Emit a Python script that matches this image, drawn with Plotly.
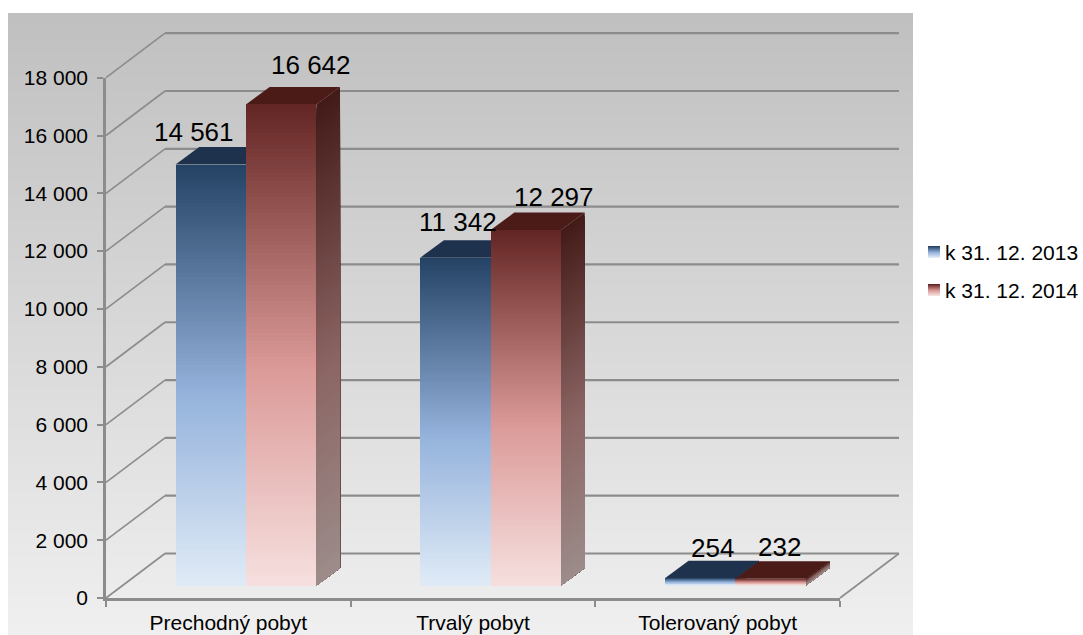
import plotly.graph_objects as go

categories = ["Prechodný pobyt", "Trvalý pobyt", "Tolerovaný pobyt"]
series_names = ["k 31. 12. 2013", "k 31. 12. 2014"]
values_2013 = [14561, 11342, 254]
values_2014 = [16642, 12297, 232]
value_labels_2013 = ["14 561", "11 342", "254"]
value_labels_2014 = ["16 642", "12 297", "232"]
y_ticks = [0, 2000, 4000, 6000, 8000, 10000, 12000, 14000, 16000, 18000]
y_tick_labels = ["0", "2 000", "4 000", "6 000", "8 000", "10 000", "12 000", "14 000", "16 000", "18 000"]

W, H = 1083, 635
AX_L, AX_R, AX_B, AX_T = 106.0, 840.0, 598.0, 77.7
CW = (AX_R - AX_L) / 3
VS = (AX_B - AX_T) / 18000
GRAY = "#8c8c8c"
FONT = "Liberation Sans, Arial, sans-serif"

def ux(px): return px / CW            # pixel length to category units
def uy(px): return px / VS            # pixel length to value units
def X(px): return (px - AX_L) / CW    # page pixel position to category units
def Y(py): return (AX_B - py) / VS    # page pixel position to value units

WALL_DX, WALL_DY = 59, 44.5
FLOOR_DX, FLOOR_DY = 17.6, 12.5
BAR_DX, BAR_DY = 23.7, 17.5
BAR_W = 70.4 / CW

def hex2(c): return tuple(int(c[i:i + 2], 16) for i in (1, 3, 5))
def ramp(stops, t):
    for (a, ca), (b, cb) in zip(stops, stops[1:]):
        if t <= b:
            f = (t - a) / (b - a)
            A, B = hex2(ca), hex2(cb)
            return "rgb(%d,%d,%d)" % tuple(round(A[i] + (B[i] - A[i]) * f) for i in range(3))
    return stops[-1][1]

FRONT = [
    [(0, "#254365"), (0.55, "#95b3dc"), (1, "#dfeaf6")],
    [(0, "#642624"), (0.55, "#db9a98"), (1, "#f5dfde")],
]
SIDE = [
    [(0, "#1c2f48"), (0.55, "#667c99"), (1, "#929aa4")],
    [(0, "#431b19"), (0.55, "#8a6462"), (1, "#9c8c8a")],
]
TOP = ["#1e324e", "#4b1b18"]
LEGEND_Y = [252, 290]
LABEL_SHIFTS = [
    [(-17, 33), (3, 36), (12, 30)],
    [(30, 39), (28, 33), (9, 32)],
]

shapes = []
# chart background
BG_LEFT, BG_RIGHT, BG_TOP, BG_BOTTOM = 8, 913, 13, H
for i in range(49):
    t = i / 48
    g = round(0xc0 + (0xf0 - 0xc0) * t)
    shapes.append(dict(type="rect", x0=X(BG_LEFT), x1=X(BG_RIGHT), y0=Y(BG_TOP + (BG_BOTTOM - BG_TOP) * t), y1=Y(H),
                       fillcolor=f"rgb({g},{g},{g})", line_width=0, layer="below"))

# walls and floor
for v in y_ticks:
    shapes.append(dict(type="line", x0=0, x1=ux(WALL_DX), y0=v, y1=v + uy(WALL_DY),
                       line=dict(color=GRAY, width=1.6), layer="below"))
    shapes.append(dict(type="line", x0=ux(WALL_DX), x1=3 + ux(WALL_DX), y0=v + uy(WALL_DY), y1=v + uy(WALL_DY),
                       line=dict(color=GRAY, width=2.2), layer="below"))
shapes.append(dict(type="line", x0=3, x1=3 + ux(WALL_DX), y0=0, y1=uy(WALL_DY),
                   line=dict(color=GRAY, width=1.6), layer="below"))

traces = []
N = 120
for s, (name, vals) in enumerate(zip(series_names, [values_2013, values_2014])):
    bx, bb, by, bw, bc = [], [], [], [], []
    for c, v in enumerate(vals):
        left = c + 0.5 + ux(FLOOR_DX) + (s - 1) * BAR_W
        base = uy(FLOOR_DY)
        right = left + BAR_W
        for k in range(N):
            t = k / (N - 1)
            top_v = base + v * (1 - k / N)
            d0x, d0y = ux(BAR_DX), uy(BAR_DY)
            path = (f"M {right} {top_v} L {right + d0x} {top_v + d0y} "
                    f"L {right + d0x} {base + d0y} L {right} {base} Z")
            shapes.append(dict(type="path", path=path, fillcolor=ramp(SIDE[s], t), line_width=0, layer="below"))
            bx.append(left + BAR_W / 2); bb.append(base); by.append(top_v - base); bw.append(BAR_W)
            bc.append(ramp(FRONT[s], t))
        tv = base + v
        path = (f"M {left} {tv} L {left + ux(BAR_DX)} {tv + uy(BAR_DY)} "
                f"L {right + ux(BAR_DX)} {tv + uy(BAR_DY)} L {right} {tv} Z")
        shapes.append(dict(type="path", path=path, fillcolor=TOP[s], line_width=0, layer="below"))
    traces.append(go.Bar(x=bx, y=by, base=bb, width=bw, name=name, showlegend=False,
                         marker=dict(color=bc, line_width=0), hoverinfo="skip"))

# category/value axes carried by an invisible trace
traces.append(go.Scatter(x=categories, y=[0, 0, 0], xaxis="x2", yaxis="y2", mode="markers",
                         marker=dict(opacity=0), showlegend=False, hoverinfo="skip"))

# value labels
annotations = []
for s, (vals, labs) in enumerate(zip([values_2013, values_2014], [value_labels_2013, value_labels_2014])):
    for c, (v, lab) in enumerate(zip(vals, labs)):
        cx = c + 0.5 + ux(FLOOR_DX) + (s - 0.5) * BAR_W
        sx, sy = LABEL_SHIFTS[s][c]
        annotations.append(dict(x=cx, y=uy(FLOOR_DY) + v, text=lab, showarrow=False, xshift=sx, yshift=sy,
                                xanchor="center", yanchor="middle", font=dict(size=26, color="#000", family=FONT)))

# legend
for s, name in enumerate(series_names):
    yc = LEGEND_Y[s]
    for k in range(12):
        shapes.append(dict(type="rect", x0=X(928), x1=X(940), y0=Y(yc - 6 + k), y1=Y(yc + 6),
                           fillcolor=ramp(FRONT[s], k / 11), line_width=0, layer="below"))
    annotations.append(dict(x=X(943), y=Y(yc), text=name, showarrow=False, xanchor="left", yanchor="middle",
                            font=dict(size=21, color="#000", family=FONT)))

fig = go.Figure(traces)
fig.update_layout(
    width=W, height=H, margin=dict(l=0, r=0, t=0, b=0), autosize=False,
    paper_bgcolor="#fff", plot_bgcolor="rgba(0,0,0,0)", barmode="overlay", bargap=0,
    shapes=shapes, annotations=annotations, showlegend=False,
    xaxis=dict(domain=[0, 1], range=[X(0), X(W)], visible=False, fixedrange=True, automargin=False),
    yaxis=dict(domain=[0, 1], range=[Y(H), Y(0)], visible=False, fixedrange=True, automargin=False),
    xaxis2=dict(domain=[AX_L / W, AX_R / W], anchor="y2", type="category", automargin=False,
                categoryorder="array", categoryarray=categories, tickson="boundaries", ticks="outside", ticklen=6,
                tickwidth=2, tickcolor=GRAY, showline=True, linecolor=GRAY, linewidth=2.5, showgrid=False,
                zeroline=False, ticklabelstandoff=4, tickfont=dict(size=21, color="#000", family=FONT),
                range=[-0.5, 2.5]),
    yaxis2=dict(domain=[(H - AX_B) / H, (H - AX_T) / H], anchor="x2", range=[0, 18000], tickvals=y_ticks,
                automargin=False, ticktext=y_tick_labels, ticks="outside", ticklen=6, tickwidth=2, tickcolor=GRAY,
                showline=True, linecolor=GRAY, linewidth=2.5, showgrid=False, zeroline=False, ticklabelstandoff=5,
                tickfont=dict(size=21, color="#000", family=FONT)),
)
fig.write_html("out.html", config={"displayModeBar": False},
               post_script="document.body.style.margin='0';document.documentElement.style.overflow='hidden';")
